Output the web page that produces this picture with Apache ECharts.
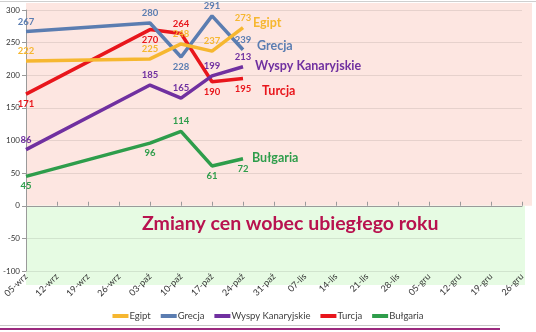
<!DOCTYPE html>
<html><head><meta charset="utf-8">
<script src="https://cdn.jsdelivr.net/npm/echarts@6/dist/echarts.min.js"></script>
<style>html,body{margin:0;padding:0;background:#fff}#c{width:536px;height:332px}</style>
</head><body><div id="c"></div>
<script>
const categories = ['05-wrz','12-wrz','19-wrz','26-wrz','03-paź','10-paź','17-paź','24-paź','31-paź','07-lis','14-lis','21-lis','28-lis','05-gru','12-gru','19-gru','26-gru'];
const seriesNames = ['Egipt','Grecja','Wyspy Kanaryjskie','Turcja','Bułgaria'];
const egipt    = [222,null,null,null,225,248,237,273];
const grecja   = [267,null,null,null,280,228,291,239];
const wyspy    = [86,null,null,null,185,165,199,213];
const turcja   = [171,null,null,null,270,264,190,195];
const bulgaria = [45,null,null,null,96,114,61,72];
const yMin = -100, yMax = 300, yStep = 50;
const titleText = 'Zmiany cen wobec ubiegłego roku';

const values = [egipt, grecja, wyspy, turcja, bulgaria];
const colors = ['#F6B730','#5B7DB1','#7030A0','#E8161C','#2E9D4B'];
const labelPos = [
  ['top',null,null,null,'top','top','top','top'],
  ['top',null,null,null,'top','bottom','top','top'],
  ['top',null,null,null,'top','top','top','top'],
  ['bottom',null,null,null,'bottom','top','bottom','bottom'],
  ['bottom',null,null,null,'bottom','top','bottom','bottom']
];
const endOffsets = [[10,-5],[14,-4],[12,-1],[19,12],[9,-1]];
const font = 'Lato, "Open Sans", sans-serif';

const chart = echarts.init(document.getElementById('c'), null, {renderer:'canvas'});
const series = values.map((arr, i) => ({
  name: seriesNames[i],
  type: 'line',
  xAxisIndex: 0,
  data: arr.map((v, j) => v == null ? null : {value: v, label: {position: labelPos[i][j]}}),
  connectNulls: true,
  showSymbol: true,
  symbol: 'circle',
  symbolSize: 0.01,
  lineStyle: {width: 3.5, color: colors[i]},
  itemStyle: {color: colors[i], opacity: 0},
  z: 5 - i + 2,
  label: {show: true, color: colors[i], fontFamily: font, fontWeight: 'bold', fontSize: 9.5, distance: 5, opacity: 1},
  endLabel: {show: true, formatter: '{a}', color: colors[i], fontFamily: font, fontWeight: 'bold', fontSize: 12.5, offset: endOffsets[i], distance: 0}
}));

chart.setOption({
  animation: false,
  textStyle: {fontFamily: font},
  title: {text: titleText, left: 137, top: 209, textStyle: {color: '#B8124F', fontSize: 19.5, fontWeight: 'bold', fontFamily: font}},
  legend: {
    bottom: 6, left: 'center', itemWidth: 16, itemHeight: 4, itemGap: 10,
    icon: 'rect',
    textStyle: {fontSize: 9.5, color: '#404040', fontFamily: font, padding: [0,0,0,-4]},
    data: seriesNames.map((n, i) => ({name: n, itemStyle: {color: colors[i], opacity: 1}}))
  },
  grid: {left: 26, right: 14, top: 10, bottom: 61, containLabel: false},
  xAxis: [{
    type: 'category', data: categories, boundaryGap: false, position: 'bottom',
    axisLine: {show: false, onZero: false}, axisTick: {show: false},
    axisLabel: {rotate: 45, fontSize: 9, color: '#333', margin: 4, interval: 0, fontFamily: font}
  },{
    type: 'category', data: categories, boundaryGap: false, gridIndex: 0,
    axisLine: {show: true, onZero: true, lineStyle: {color: '#9a9a9a', width: 1}},
    axisTick: {show: true, inside: false, length: 4, alignWithLabel: true, interval: 0, lineStyle: {color: '#9a9a9a'}},
    axisLabel: {show: false}, splitLine: {show: false}
  }],
  yAxis: {
    type: 'value', min: yMin, max: yMax, interval: yStep,
    axisLine: {show: true, lineStyle: {color: '#9a9a9a'}},
    axisTick: {show: true, length: 4, lineStyle: {color: '#9a9a9a'}},
    axisLabel: {fontSize: 8, color: '#333', margin: 6, fontFamily: font},
    splitLine: {lineStyle: {color: 'rgba(0,0,0,0.09)', width: 1}}
  },
  series: series
});

// background bands computed from the chart's own scales
const pTop = chart.convertToPixel({gridIndex: 0}, [0, yMax]);
const pZero = chart.convertToPixel({gridIndex: 0}, [0, 0]);
const pBot = chart.convertToPixel({gridIndex: 0}, [0, yMin]);
const pLast = chart.convertToPixel({gridIndex: 0}, [categories.length - 1, 0]);
chart.setOption({
  graphic: [
    {type: 'rect', z: -10, silent: true, shape: {x: pTop[0], y: pTop[1] - 7, width: pLast[0] - pTop[0] + 10, height: pZero[1] - pTop[1] + 7}, style: {fill: '#FDE6E1'}},
    {type: 'rect', z: -10, silent: true, shape: {x: pTop[0], y: pZero[1], width: pLast[0] - pTop[0] + 3, height: pBot[1] - pZero[1] + 14}, style: {fill: '#E6FBE3'}},
    {type: 'rect', z: -10, silent: true, shape: {x: 0, y: 1, width: 536, height: 1}, style: {fill: '#cfcfcf'}},
    {type: 'rect', z: -10, silent: true, shape: {x: 0, y: 325, width: 500, height: 1}, style: {fill: '#c8c8c8'}},
    {type: 'rect', z: -10, silent: true, shape: {x: 0, y: 328, width: 500, height: 2}, style: {fill: '#9B2A7E'}}
  ]
});
</script></body></html>
